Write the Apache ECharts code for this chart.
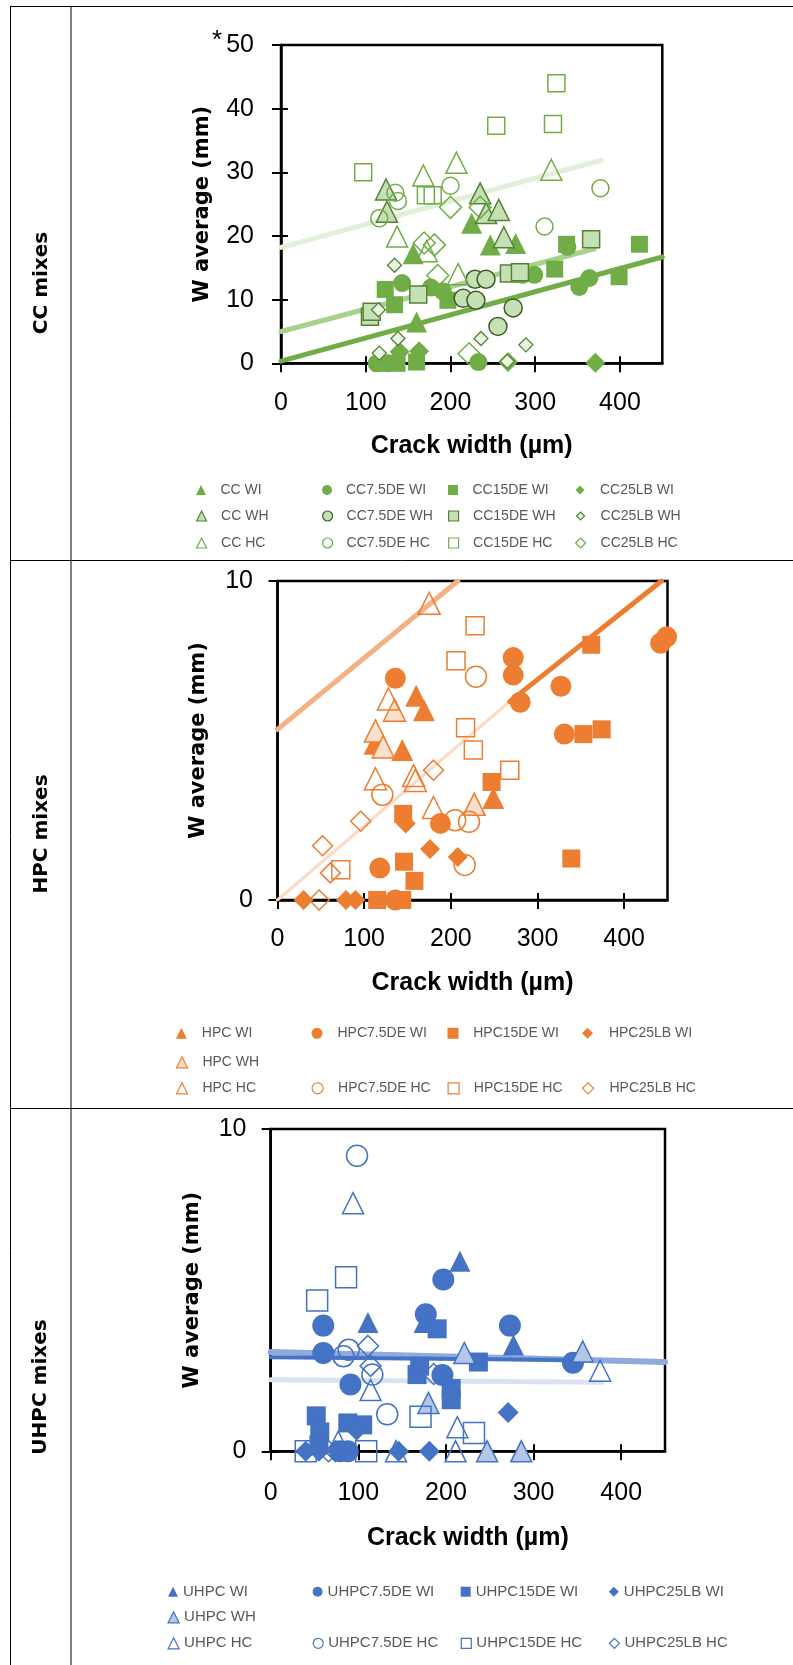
<!DOCTYPE html>
<html><head><meta charset="utf-8">
<script src="https://cdn.jsdelivr.net/npm/echarts@6/dist/echarts.min.js"></script>
<style>html,body{margin:0;padding:0;background:#fff}#c{width:793px;height:1665px}</style>
</head><body><div id="c"></div>
<script>
// ---------- tick labels ----------
const xTickValues = [0, 100, 200, 300, 400];
const yTickValuesCC = [0, 10, 20, 30, 40, 50];
const yTickValuesHPC = [0, 10];
const yTickValuesUHPC = [0, 10];
const xTitle = 'Crack width (µm)';
const yTitle = 'W average (mm)';
const rowLabels = ['CC mixes', 'HPC mixes', 'UHPC mixes'];

// ---------- CC mixes ----------
const ccWI   = [[156,17.2],[160,6.5],[225,22.0],[247,18.6],[277,18.8]];
const cc75WI = [[113,0],[126,0],[143,12.6],[177,11.9],[191,11.3],[233,0.2],[285,13.9],[299,13.9],[338,18.3],[352,12.0],[364,13.4]];
const cc15WI = [[118,0],[137,0],[160,0.2],[123,11.6],[134,9.2],[197,9.9],[323,14.8],[337,18.7],[399,13.6],[423,18.7]];
const cc25WI = [[140,1.8],[163,1.9],[268,0.2],[371,0.1]];
const ccWH   = [[124,27.3],[125,23.8],[235,26.7],[242,23.6],[257,24.1],[263,19.8]];
const cc75WH = [[215,10.2],[230,9.9],[229,13.2],[242,13.2],[256,5.8],[274,8.7]];
const cc15WH = [[105,7.3],[107,8.1],[162,10.8],[269,14.1],[282,14.3],[366,19.5]];
const cc25WH = [[116,1.6],[115,8.4],[134,15.4],[138,3.9],[236,3.9],[289,2.9],[267,0.3]];
const ccHC   = [[137,19.9],[168,29.5],[172,17.6],[207,31.5],[209,14.0],[319,30.4]];
const cc75HC = [[116,22.8],[135,26.8],[138,25.5],[200,27.9],[311,21.5],[377,27.5]];
const cc15HC = [[97,30.0],[171,26.4],[179,26.4],[254,37.3],[321,37.6],[325,44.0]];
const cc25HC = [[169,18.9],[181,18.6],[185,13.8],[200,24.5],[235,24.5],[222,1.5]];
const ccTrendWI = [[0,0.35],[450,16.7]];
const ccTrendWH = [[0,5.0],[370,18.0]];
const ccTrendHC = [[0,18.2],[378,31.9]];

// ---------- HPC mixes ----------
const hpcWI   = [[112,4.9],[144,4.7],[160,6.4],[169,5.95],[249,3.2]];
const hpc75WI = [[118,1.0],[136,0],[136,6.95],[188,2.4],[272,7.6],[272,7.05],[280,6.2],[327,6.7],[331,5.2],[442,8.05],[449,8.25]];
const hpc15WI = [[115,0],[144,0],[145,2.7],[146,1.2],[158,0.6],[247,3.7],[339,1.3],[353,5.2],[362,8.0],[374,5.35]];
const hpc25WI = [[30,0],[79,0],[90,0],[148,2.4],[176,1.6],[208,1.35]];
const hpcWH   = [[113,5.3],[122,4.8],[135,5.95],[227,3.0]];
const hpcHC   = [[113,3.8],[128,6.3],[157,3.9],[159,3.75],[175,9.3],[180,2.9]];
const hpc75HC = [[121,3.3],[205,2.5],[221,2.45],[216,1.1],[229,7.0]];
const hpc15HC = [[73,0.95],[206,7.5],[217,5.4],[226,4.7],[228,8.6],[268,4.07]];
const hpc25HC = [[48,0],[52,1.7],[61,0.85],[96,2.47],[180,4.07]];
const hpcTrendHC = [[0,5.35],[208,10]];
const hpcTrendWH = [[0,0],[270,6.27]];
const hpcTrendWI = [[268,6.22],[443,10]];

// ---------- UHPC mixes ----------
const uhpcWI   = [[111,4.0],[175,4.0],[216,5.9],[277,3.3]];
const uhpc75WI = [[60,3.9],[60,3.05],[79,0],[88,0],[91,2.07],[177,4.25],[196,2.37],[197,5.33],[273,3.9],[345,2.75]];
const uhpc15WI = [[52,1.1],[56,0.6],[55,0.2],[88,0.88],[105,0.82],[167,2.38],[170,2.64],[190,3.8],[206,1.95],[206,1.6],[237,2.77]];
const uhpc25WI = [[40,0],[55,0],[98,0.65],[146,0],[181,0],[271,1.2]];
const uhpcWH   = [[180,1.5],[221,3.05],[247,0],[286,0],[356,3.1]];
const uhpcHC   = [[77,0.3],[94,7.7],[114,1.9],[143,0],[211,0],[213,0.75],[376,2.5]];
const uhpc75HC = [[83,2.95],[89,3.15],[98.5,9.17],[116,2.38],[133,1.15]];
const uhpc15HC = [[40,0],[53,4.68],[86,5.4],[109,0],[171,1.07],[232,0.57]];
const uhpc25HC = [[66,0],[74,0],[111,3.27],[114,2.65],[186,2.4]];
const uhpcTrendWH = [[0,3.08],[450,2.77]];
const uhpcTrendWI = [[0,2.92],[345,2.83]];
const uhpcTrendHC = [[0,2.22],[378,2.14]];

// ---------- styling / layout ----------
const NONE = 'rgba(0,0,0,0)';
const grids = [
  {left:281, top:45, width:381.3, height:318.3, ymax:50, yticks:yTickValuesCC, xLabelMargin:27, yLabelMargin:27, xNameGap:70, yNameGap:68},
  {left:277.5, top:581, width:390, height:319, ymax:10, yticks:yTickValuesHPC, xLabelMargin:27, yLabelMargin:24.5, xNameGap:71, yNameGap:68},
  {left:270.7, top:1129, width:394.3, height:322.3, ymax:10, yticks:yTickValuesUHPC, xLabelMargin:29.5, yLabelMargin:24.2, xNameGap:74.5, yNameGap:68}
];

const xAxes = [], yAxes = [];
grids.forEach((g, i) => {
  const tickStyle = {color:'#000', width:2};
  xAxes.push({gridIndex:i, type:'value', min:0, max:450, position:'bottom',
    axisLine:{show:true, onZero:false, lineStyle:{color:'#000', width:2.5}},
    axisTick:{show:true, customValues:xTickValues, length:9, lineStyle:tickStyle},
    axisLabel:{show:true, customValues:xTickValues, margin:g.xLabelMargin, fontSize:25, color:'#000', fontFamily:'Liberation Sans'},
    splitLine:{show:false},
    name:xTitle, nameLocation:'middle', nameGap:g.xNameGap,
    nameTextStyle:{fontSize:25, fontWeight:'bold', color:'#000', fontFamily:'Liberation Sans'}});
  xAxes.push({gridIndex:i, type:'value', min:0, max:450, position:'bottom',
    axisLine:{show:false}, axisTick:{show:true, inside:true, customValues:xTickValues, length:7, lineStyle:tickStyle},
    axisLabel:{show:false}, splitLine:{show:false}});
  yAxes.push({gridIndex:i, type:'value', min:0, max:g.ymax, position:'left',
    axisLine:{show:true, onZero:false, lineStyle:{color:'#000', width:2.5}},
    axisTick:{show:true, customValues:g.yticks, length:9, lineStyle:tickStyle},
    axisLabel:{show:true, customValues:g.yticks, margin:g.yLabelMargin, fontSize:25, color:'#000', fontFamily:'Liberation Sans'},
    splitLine:{show:false},
    name:yTitle, nameLocation:'middle', nameRotate:90, nameGap:g.yNameGap,
    nameTextStyle:{fontSize:21, fontWeight:'bold', color:'#000', fontFamily:'DejaVu Sans'}});
  yAxes.push({gridIndex:i, type:'value', min:0, max:g.ymax, position:'left',
    axisLine:{show:false}, axisTick:{show:true, inside:true, customValues:g.yticks, length:7, lineStyle:tickStyle},
    axisLabel:{show:false}, splitLine:{show:false}});
});

function scatter(name, data, gi, symbol, size, fill, border, bw) {
  return {type:'scatter', name, data, xAxisIndex:gi*2, yAxisIndex:gi*2, symbol, symbolSize:size,
    itemStyle:{color:fill, borderColor:border || fill, borderWidth:bw || 0, opacity:1},
    z:3, silent:true, emphasis:{disabled:true}, clip:false};
}
function trend(name, data, gi, color, width) {
  return {type:'line', name, data, xAxisIndex:gi*2, yAxisIndex:gi*2, symbol:'none', showSymbol:false,
    lineStyle:{color, width, cap:'round'}, z:2, silent:true, emphasis:{disabled:true}};
}

const G = {wi:'#70AD47', whF:'#C5E0B4', whB:'#548235', whCircB:'#3B5E26', whDiaF:'#E9F4E1', hc:'#70AD47'};
const O = {wi:'#ED7D31', whF:'#FBE0CC', whB:'#ED7D31', hc:'#ED7D31'};
const B = {wi:'#4472C4', whF:'#B4C7E7', whB:'#4472C4', hc:'#4472C4'};

const series = [
  trend('ccTrendHC', ccTrendHC, 0, '#E2F0D9', 5),
  trend('ccTrendWH', ccTrendWH, 0, '#A9D18E', 5),
  trend('ccTrendWI', ccTrendWI, 0, '#70AD47', 5),
  scatter('CC WI', ccWI, 0, 'triangle', 21, G.wi),
  scatter('CC7.5DE WI', cc75WI, 0, 'circle', 18, G.wi),
  scatter('CC15DE WI', cc15WI, 0, 'rect', 17, G.wi),
  scatter('CC25LB WI', cc25WI, 0, 'diamond', 20, G.wi),
  scatter('CC WH', ccWH, 0, 'triangle', 21, G.whF, G.whB, 1.5),
  scatter('CC7.5DE WH', cc75WH, 0, 'circle', 18, G.whF, G.whCircB, 1.5),
  scatter('CC15DE WH', cc15WH, 0, 'rect', 17, G.whF, G.whB, 1.5),
  scatter('CC25LB WH', cc25WH, 0, 'diamond', 14, G.whDiaF, G.whB, 1.3),
  scatter('CC HC', ccHC, 0, 'triangle', 21, NONE, G.hc, 1.5),
  scatter('CC7.5DE HC', cc75HC, 0, 'circle', 17, NONE, G.hc, 1.5),
  scatter('CC15DE HC', cc15HC, 0, 'rect', 17, NONE, G.hc, 1.5),
  scatter('CC25LB HC', cc25HC, 0, 'diamond', 22, NONE, G.hc, 1.5),

  trend('hpcTrendHC', hpcTrendHC, 1, '#F4B183', 5),
  trend('hpcTrendWH', hpcTrendWH, 1, '#F9DCC8', 3),
  trend('hpcTrendWI', hpcTrendWI, 1, '#ED7D31', 5),
  scatter('HPC WI', hpcWI, 1, 'triangle', 22, O.wi),
  scatter('HPC7.5DE WI', hpc75WI, 1, 'circle', 21, O.wi),
  scatter('HPC15DE WI', hpc15WI, 1, 'rect', 18, O.wi),
  scatter('HPC25LB WI', hpc25WI, 1, 'diamond', 20, O.wi),
  scatter('HPC WH', hpcWH, 1, 'triangle', 22, O.whF, O.whB, 1.5),
  scatter('HPC HC', hpcHC, 1, 'triangle', 22, NONE, O.hc, 1.5),
  scatter('HPC7.5DE HC', hpc75HC, 1, 'circle', 21, NONE, O.hc, 1.5),
  scatter('HPC15DE HC', hpc15HC, 1, 'rect', 18, NONE, O.hc, 1.5),
  scatter('HPC25LB HC', hpc25HC, 1, 'diamond', 20, NONE, O.hc, 1.5),

  trend('uhpcTrendHC', uhpcTrendHC, 2, '#DAE3F3', 5),
  trend('uhpcTrendWH', uhpcTrendWH, 2, '#8FAADC', 6),
  trend('uhpcTrendWI', uhpcTrendWI, 2, '#4472C4', 4),
  scatter('UHPC WI', uhpcWI, 2, 'triangle', 21, B.wi),
  scatter('UHPC7.5DE WI', uhpc75WI, 2, 'circle', 22, B.wi),
  scatter('UHPC15DE WI', uhpc15WI, 2, 'rect', 19, B.wi),
  scatter('UHPC25LB WI', uhpc25WI, 2, 'diamond', 21, B.wi),
  scatter('UHPC WH', uhpcWH, 2, 'triangle', 21, B.whF, B.whB, 1.5),
  scatter('UHPC HC', uhpcHC, 2, 'triangle', 21, NONE, B.hc, 1.5),
  scatter('UHPC7.5DE HC', uhpc75HC, 2, 'circle', 21, NONE, B.hc, 1.5),
  scatter('UHPC15DE HC', uhpc15HC, 2, 'rect', 21, NONE, B.hc, 1.5),
  scatter('UHPC25LB HC', uhpc25HC, 2, 'diamond', 21, NONE, B.hc, 1.5)
];

// legend layout: [name, column, row, iconSize, borderWidth]
const legendLayouts = [
  {cx:[201,327,453,580], tx:[220.5,346,472.5,600], rows:[490,516,543], fs:14, items:[
    ['CC WI',0,0,10,0],['CC7.5DE WI',1,0,10,0],['CC15DE WI',2,0,10,0],['CC25LB WI',3,0,9,0],
    ['CC WH',0,1,10,1.2],['CC7.5DE WH',1,1,10,1.2],['CC15DE WH',2,1,10,1.2],['CC25LB WH',3,1,8,1.2],
    ['CC HC',0,2,10,1.2],['CC7.5DE HC',1,2,10,1.2],['CC15DE HC',2,2,10,1.2],['CC25LB HC',3,2,10,1.2]]},
  {cx:[181.4,317,453,587.5], tx:[201.8,337.5,473.2,608.9], rows:[1033.3,1062.3,1088.3], fs:14, items:[
    ['HPC WI',0,0,11,0],['HPC7.5DE WI',1,0,11,0],['HPC15DE WI',2,0,11,0],['HPC25LB WI',3,0,11,0],
    ['HPC WH',0,1,11,1.2],
    ['HPC HC',0,2,11,1.2],['HPC7.5DE HC',1,2,11,1.2],['HPC15DE HC',2,2,11,1.2],['HPC25LB HC',3,2,11,1.2]]},
  {cx:[173,317.6,465.7,613.8], tx:[182.5,324.1,472.6,623.8], rows:[1591.7,1617.3,1643.3], fs:15, items:[
    ['UHPC WI',0,0,10,0],['UHPC7.5DE WI',1,0,10,0],['UHPC15DE WI',2,0,10,0],['UHPC25LB WI',3,0,10,0],
    ['UHPC WH',0,1,11,1.2],
    ['UHPC HC',0,2,11,1.2],['UHPC7.5DE HC',1,2,10,1.2],['UHPC15DE HC',2,2,10,1.2],['UHPC25LB HC',3,2,10,1.2]]}
];
const legends = [];
legendLayouts.forEach(L => {
  L.items.forEach(([name, c, r, s, bw]) => {
    const cx = L.cx[c], tx = L.tx[c], cy = L.rows[r];
    const pad = Math.max(0, tx - cx - s / 2 - 5);
    const h = Math.max(s, L.fs);
    legends.push({data:[name], left:cx - s / 2, top:cy - h / 2, itemWidth:s, itemHeight:s, padding:0, itemGap:0,
      selectedMode:false, orient:'horizontal',
      itemStyle:{borderWidth:bw},
      textStyle:{fontSize:L.fs, color:'#595959', fontFamily:'Liberation Sans', padding:[0,0,0,pad]}});
  });
});

const graphics = [
  {type:'line', shape:{x1:10.5, y1:6, x2:10.5, y2:1665}, style:{stroke:'#000', lineWidth:1}},
  {type:'line', shape:{x1:71, y1:6, x2:71, y2:1665}, style:{stroke:'#000', lineWidth:1}},
  {type:'line', shape:{x1:10, y1:6.5, x2:793, y2:6.5}, style:{stroke:'#000', lineWidth:1}},
  {type:'line', shape:{x1:10, y1:560.5, x2:793, y2:560.5}, style:{stroke:'#000', lineWidth:1}},
  {type:'line', shape:{x1:10, y1:1108.5, x2:793, y2:1108.5}, style:{stroke:'#000', lineWidth:1}},
  {type:'text', x:41.5, y:283, rotation:Math.PI / 2, style:{text:rowLabels[0], font:'bold 20px "DejaVu Sans"', fill:'#000', align:'center', verticalAlign:'middle'}},
  {type:'text', x:41.5, y:834, rotation:Math.PI / 2, style:{text:rowLabels[1], font:'bold 20px "DejaVu Sans"', fill:'#000', align:'center', verticalAlign:'middle'}},
  {type:'text', x:41, y:1387, rotation:Math.PI / 2, style:{text:rowLabels[2], font:'bold 20px "DejaVu Sans"', fill:'#000', align:'center', verticalAlign:'middle'}},
  {type:'text', x:217, y:41, style:{text:'*', font:'26px "Liberation Sans"', fill:'#000', align:'center', verticalAlign:'middle'}}
];

const chart = echarts.init(document.getElementById('c'), null, {renderer:'canvas'});
chart.setOption({
  animation:false,
  backgroundColor:'#fff',
  textStyle:{fontFamily:'Liberation Sans'},
  grid: grids.map(g => ({left:g.left, top:g.top, width:g.width, height:g.height, show:true,
    borderColor:'#000', borderWidth:2.5, backgroundColor:'transparent', containLabel:false, outerBoundsMode:'none'})),
  xAxis: xAxes,
  yAxis: yAxes,
  legend: legends,
  tooltip:{show:false},
  series: series,
  graphic: graphics
});
</script>
</body></html>
